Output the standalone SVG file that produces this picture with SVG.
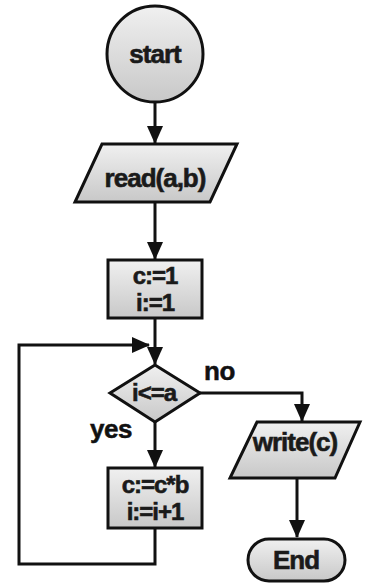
<svg xmlns="http://www.w3.org/2000/svg" width="365" height="584" viewBox="0 0 365 584">
<defs>
<linearGradient id="g" x1="0" y1="0" x2="0" y2="1">
<stop offset="0" stop-color="#f0f0f0"/>
<stop offset="1" stop-color="#c8c8c8"/>
</linearGradient>
<marker id="ah" markerUnits="userSpaceOnUse" markerWidth="18" markerHeight="16" refX="17" refY="8" orient="auto">
<path d="M0,0 L18,8 L0,16 Z" fill="#111"/>
</marker>
<style>
.s{fill:url(#g);stroke:#111;stroke-width:3}
.c{fill:none;stroke:#111;stroke-width:3}
.t{font-family:"Liberation Sans",Arial,sans-serif;font-weight:bold;fill:#1a1a1a;stroke:#1a1a1a;stroke-width:0.6;text-anchor:middle;letter-spacing:-1px}
.big{font-size:26px}
.mid{font-size:24px}
.lbl{font-family:"Liberation Sans",Arial,sans-serif;font-weight:bold;fill:#111;stroke:#111;stroke-width:0.5;font-size:26px;letter-spacing:-0.5px}
</style>
</defs>
<rect width="365" height="584" fill="#ffffff"/>
<g id="connectors">
<line class="c" x1="155" y1="102" x2="155" y2="143" marker-end="url(#ah)"/>
<line class="c" x1="155" y1="202" x2="155" y2="259" marker-end="url(#ah)"/>
<line class="c" x1="155" y1="318" x2="155" y2="364" marker-end="url(#ah)"/>
<line class="c" x1="155" y1="422" x2="155" y2="467" marker-end="url(#ah)"/>
<polyline class="c" points="155,528 155,564 19,564 19,345 149,345" marker-end="url(#ah)"/>
<polyline class="c" points="200,393 302,393 302,421" marker-end="url(#ah)"/>
<line class="c" x1="297" y1="478" x2="297" y2="537" marker-end="url(#ah)"/>
</g>
<g id="start">
<circle class="s" cx="155" cy="54" r="48"/>
<text class="t big" x="155" y="63">start</text>
</g>
<g id="read">
<polygon class="s" points="102,144 237,144 210,202 75,202"/>
<text class="t big" x="155" y="187">read(a,b)</text>
</g>
<g id="init">
<rect class="s" x="108" y="260" width="94" height="58"/>
<text class="t mid" x="155" y="284">c:=1</text>
<text class="t mid" x="155" y="311">i:=1</text>
</g>
<g id="cond">
<polygon class="s" points="155,365 200,393 155,422 110,393"/>
<text class="t mid" x="154" y="401">i&lt;=a</text>
</g>
<g id="body">
<rect class="s" x="108" y="468" width="94" height="60"/>
<text class="t mid" x="155" y="493">c:=c*b</text>
<text class="t mid" x="155" y="520">i:=i+1</text>
</g>
<g id="write">
<polygon class="s" points="257,422 360,422 335,478 230,478"/>
<text class="t big" x="295" y="451">write(c)</text>
</g>
<g id="end">
<rect class="s" x="248" y="539" width="97" height="42" rx="21" ry="21"/>
<text class="t big" x="296" y="569">End</text>
</g>
<g id="labels">
<text class="lbl" x="204" y="380">no</text>
<text class="lbl" x="90" y="438">yes</text>
</g>
</svg>
